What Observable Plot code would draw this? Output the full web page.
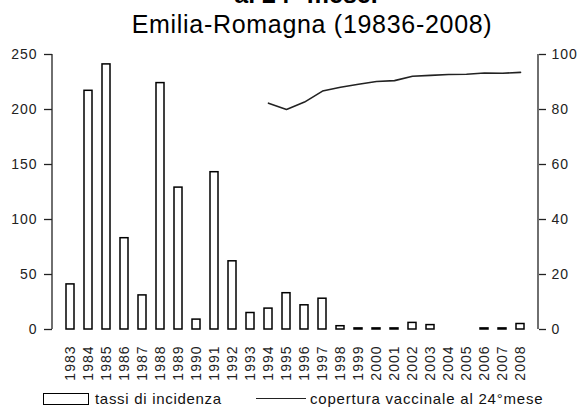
<!DOCTYPE html>
<html>
<head>
<meta charset="utf-8">
<script src="https://cdn.jsdelivr.net/npm/d3@7"></script>
<script src="https://cdn.jsdelivr.net/npm/@observablehq/plot@0.6"></script>
<style>
  html, body { margin: 0; padding: 0; background: #fff; }
  body { position: relative; width: 581px; height: 407px; overflow: hidden; font-family: "Liberation Sans", Arial, sans-serif; color: #000; }
  .t { position: absolute; white-space: nowrap; line-height: 25px; }
  #title1 { top: -18px; left: 306px; transform: translateX(-50%); font-size: 25px; font-weight: bold; }
  #title2 { top: 12px; left: 312px; transform: translateX(-50%); font-size: 25px; letter-spacing: 0.7px; }
  #chart { position: absolute; top: 40px; left: 0; }
  .leg { position: absolute; font-size: 15px; line-height: 15px; white-space: nowrap; color: #111; }
  #legRect { position: absolute; left: 43px; top: 393px; width: 44px; height: 10px; border: 1.5px solid #000; background: #fff; }
  #legLine { position: absolute; left: 256px; top: 398px; width: 50px; height: 0; border-top: 1.6px solid #222; }
</style>
</head>
<body>
<div id="title1" class="t">al 24° mese.</div>
<div id="title2" class="t">Emilia-Romagna (19836-2008)</div>
<div id="chart"></div>
<div id="legRect"></div>
<div class="leg" style="left:95px; top:391px; letter-spacing:0.7px;">tassi di incidenza</div>
<div id="legLine"></div>
<div class="leg" style="left:310px; top:391px; letter-spacing:0.8px;">copertura vaccinale al 24°mese</div>
<script>
const years = ["1983","1984","1985","1986","1987","1988","1989","1990","1991","1992","1993","1994","1995","1996","1997","1998","1999","2000","2001","2002","2003","2004","2005","2006","2007","2008"];
const incidence = [41, 217, 241, 83, 31, 224, 129, 9, 143, 62, 15, 19, 33, 22, 28, 3, 1, 1, 1, 6, 4, null, null, 1, 1, 5];
const coverageYears = ["1994","1995","1996","1997","1998","1999","2000","2001","2002","2003","2004","2005","2006","2007","2008"];
const coverage = [82.3, 80.0, 82.7, 86.7, 88.1, 89.2, 90.2, 90.5, 92.1, 92.4, 92.7, 92.8, 93.3, 93.2, 93.5];
const leftTicks = [0, 50, 100, 150, 200, 250];
const rightTicks = [0, 20, 40, 60, 80, 100];

const ratio = 250 / 100;
const bars = years.map((y, i) => ({year: y, v: incidence[i]})).filter(d => d.v != null);
const line = coverageYears.map((y, i) => ({year: y, v: coverage[i]}));

const axisLines = (index, scales, values, dims) => {
  const g = d3.create("svg:g");
  const y0 = scales.y(0), y1 = scales.y(250);
  const xl = dims.marginLeft, xr = dims.width - dims.marginRight;
  g.append("line").attr("x1", xl).attr("x2", xl).attr("y1", y0).attr("y2", y1).attr("stroke", "#222").attr("stroke-width", 1.3);
  g.append("line").attr("x1", xr).attr("x2", xr).attr("y1", y0).attr("y2", y1).attr("stroke", "#222").attr("stroke-width", 1.3);
  return g.node();
};

const plot = Plot.plot({
  width: 581,
  height: 344,
  marginTop: 14,
  marginBottom: 55,
  marginLeft: 52,
  marginRight: 43,
  style: {fontFamily: "'Liberation Sans', Arial, sans-serif", fontSize: "14px", color: "#222", letterSpacing: "1px", background: "transparent"},
  x: {type: "band", domain: years, paddingInner: 0.55, paddingOuter: 0.265, label: null},
  y: {domain: [0, 250], label: null},
  marks: [
    Plot.barY(bars, {x: "year", y: "v", fill: "white", stroke: "#000", strokeWidth: 1.5}),
    Plot.line(line, {x: "year", y: d => d.v * ratio, stroke: "#222", strokeWidth: 1.6}),
    axisLines,
    Plot.axisY({anchor: "left", ticks: leftTicks, tickSize: 8, tickPadding: 7, fontSize: 14, stroke: "#222", strokeWidth: 1.3, label: null}),
    Plot.axisY({anchor: "right", ticks: rightTicks.map(d => d * ratio), tickFormat: d => d / ratio, tickSize: 7, tickPadding: 6, fontSize: 14, stroke: "#222", strokeWidth: 1.3, label: null}),
    Plot.axisX({anchor: "bottom", tickSize: 0, tickPadding: 16, tickRotate: -90, fontSize: 14, label: null})
  ]
});
document.getElementById("chart").appendChild(plot);
</script>
</body>
</html>
